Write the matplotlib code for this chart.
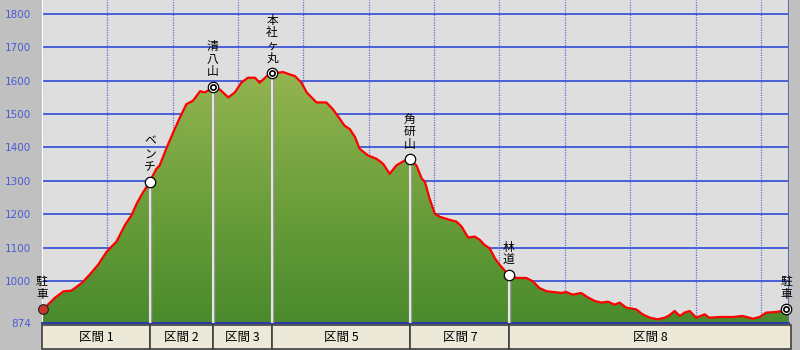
import numpy as np
import matplotlib
matplotlib.use('Agg')
import matplotlib.pyplot as plt
from matplotlib.colors import LinearSegmentedColormap
from matplotlib.patches import Polygon, Rectangle

# 距離(km) と 標高(m)
dist = [0.00, 0.07, 0.20, 0.33, 0.45, 0.61, 0.73, 0.86, 0.99, 1.14, 1.27, 1.37,
        1.45, 1.52, 1.60, 1.65, 1.75, 1.80, 1.90, 2.01, 2.11, 2.21, 2.31, 2.42,
        2.49, 2.57, 2.61, 2.72, 2.85, 2.95, 3.05, 3.15, 3.26, 3.33, 3.44, 3.52,
        3.69, 3.79, 3.87, 3.97, 4.05, 4.15, 4.20, 4.35, 4.45, 4.56, 4.63, 4.71,
        4.79, 4.86, 4.99, 5.12, 5.22, 5.32, 5.42, 5.55, 5.63, 5.73, 5.81, 5.86,
        5.93, 6.01, 6.09, 6.24, 6.34, 6.42, 6.52, 6.62, 6.70, 6.77, 6.85, 6.93,
        7.00, 7.14, 7.26, 7.41, 7.51, 7.61, 7.72, 7.82, 7.95, 8.02, 8.12, 8.25,
        8.35, 8.46, 8.56, 8.66, 8.76, 8.84, 8.94, 9.09, 9.19, 9.30, 9.42, 9.53,
        9.60, 9.68, 9.76, 9.83, 9.91, 10.01, 10.14, 10.21, 10.37, 10.57, 10.72,
        10.88, 10.98, 11.08, 11.23, 11.33, 11.39]
elev = [915, 925, 950, 969, 971, 994, 1019, 1049, 1088, 1118, 1168, 1197,
        1232, 1257, 1282, 1298, 1336, 1346, 1396, 1446, 1490, 1530, 1540, 1569,
        1565, 1574, 1582, 1574, 1550, 1565, 1594, 1609, 1609, 1594, 1614, 1622,
        1626, 1619, 1614, 1594, 1565, 1545, 1535, 1535, 1515, 1485, 1465, 1455,
        1431, 1396, 1376, 1366, 1351, 1321, 1346, 1361, 1364, 1346, 1307, 1297,
        1247, 1202, 1192, 1183, 1178, 1163, 1130, 1133, 1123, 1108, 1098, 1068,
        1049, 1018, 1009, 1009, 999, 979, 969, 967, 964, 967, 959, 964,
        951, 940, 935, 938, 929, 935, 920, 915, 900, 890, 885, 890,
        897, 910, 895, 905, 910, 890, 900, 890, 892, 892, 895,
        887, 892, 905, 907, 910, 915]

# 地点
pt_names = ['駐車', 'ベンチ', '清八山', '本社ヶ丸', '角研山', '林道', '駐車']
pt_dist = [0.00, 1.65, 2.61, 3.52, 5.63, 7.14, 11.39]
pt_elev = [915, 1298, 1582, 1622, 1364, 1018, 915]
pt_peak = [False, False, True, True, False, False, True]

# 区間
sec_edges = [0.00, 1.65, 2.61, 3.52, 5.63, 7.14, 11.44]
sec_labels = ['区間 1', '区間 2', '区間 3', '区間 5', '区間 7', '区間 8']

yticks = [874, 1000, 1100, 1200, 1300, 1400, 1500, 1600, 1700, 1800]
ymin, ymax = 874, 1842
xmax = 11.43

jp = ['Noto Sans CJK JP', 'DejaVu Sans']
blue = '#3f55d8'

fig = plt.figure(figsize=(8, 3.5), dpi=100, facecolor='#c0c0c0')
ax = fig.add_axes([42/800, 27/350, 747/800, 323/350])
ax.set_facecolor('#dedede')
ax.set_xlim(0, xmax)
ax.set_ylim(ymin, ymax)

# グリッド
for v in yticks[1:]:
    ax.axhline(v, color=blue, lw=1.3, zorder=1)
for k in range(0, 12):
    ax.axvline(k, color=blue, lw=0.9, ls=(0, (1, 1)), alpha=0.8, zorder=1)

# 塗りつぶし(グラデーション)
cmap = LinearSegmentedColormap.from_list('g', ['#4a8a2c', '#6ea03c', '#95b552'])
grad = np.linspace(0, 1, 256).reshape(-1, 1)
im = ax.imshow(grad, extent=(0, xmax, ymin, 1640), origin='lower',
               aspect='auto', cmap=cmap, zorder=2)
verts = np.column_stack([np.r_[dist[0], dist, xmax], np.r_[ymin, elev, ymin]])
verts = np.vstack([verts[:-1], [xmax, elev[-1]], [xmax, ymin]])
poly = Polygon(verts, closed=True, fc='none', ec='none', transform=ax.transData)
ax.add_patch(poly)
im.set_clip_path(poly)

ax.plot(list(dist) + [xmax], list(elev) + [elev[-1]], color='#ff0000', lw=1.6, zorder=4)

# 地点の縦線とマーカー
for name, x, e, pk in zip(pt_names, pt_dist, pt_elev, pt_peak):
    if 0 < x < 11:
        ax.vlines(x, ymin, e, color='#9a9a9a', lw=2.4, zorder=3)
        ax.vlines(x, ymin, e, color='#f4f4f4', lw=1.2, zorder=3)
    if x == 0:
        ax.plot(x + 0.02, e, 'o', ms=7, mfc='#c8352b', mec='#202020', mew=0.8,
                zorder=6, clip_on=False)
    elif pk:
        ax.plot(x, e, 'o', ms=7.5, mfc='white', mec='black', mew=0.9, zorder=6, clip_on=False)
        ax.plot(x, e, 'o', ms=3.8, mfc='white', mec='black', mew=1.2, zorder=7, clip_on=False)
    else:
        ax.plot(x, e, 'o', ms=7.5, mfc='white', mec='black', mew=0.9, zorder=6, clip_on=False)
    ax.annotate('\n'.join(name), (x, e), xytext=(0, 6), textcoords='offset points',
                ha='center', va='bottom', fontsize=8.5, family=jp,
                linespacing=0.98, zorder=8, annotation_clip=False)

ax.set_xticks([])
ax.set_yticks(yticks)
ax.set_yticklabels([str(v) for v in yticks], color='#4b5bd6', fontsize=7.5)
ax.tick_params(axis='y', length=0, pad=8)
for s in ['top', 'right']:
    ax.spines[s].set_visible(False)
ax.spines['left'].set_color('white')
ax.spines['bottom'].set_color('#2a3aa8')
ax.spines['bottom'].set_linewidth(1.5)
ax.axvline(xmax - 0.005, color='#6070a0', lw=1.5, zorder=5)

# 区間バー
bx = fig.add_axes([42/800, 1/350, 748/800, 24/350])
bx.set_xlim(0, xmax)
bx.set_ylim(0, 1)
bx.axis('off')
for a, b, lab in zip(sec_edges[:-1], sec_edges[1:], sec_labels):
    bx.add_patch(Rectangle((a, 0), b - a, 1, fc='#ece9d8', ec='#404040', lw=1.2,
                           clip_on=False))
    bx.text((a + b) / 2, 0.5, lab, ha='center', va='center', fontsize=9, family=jp)

fig.savefig('out.png', dpi=100, facecolor=fig.get_facecolor())
